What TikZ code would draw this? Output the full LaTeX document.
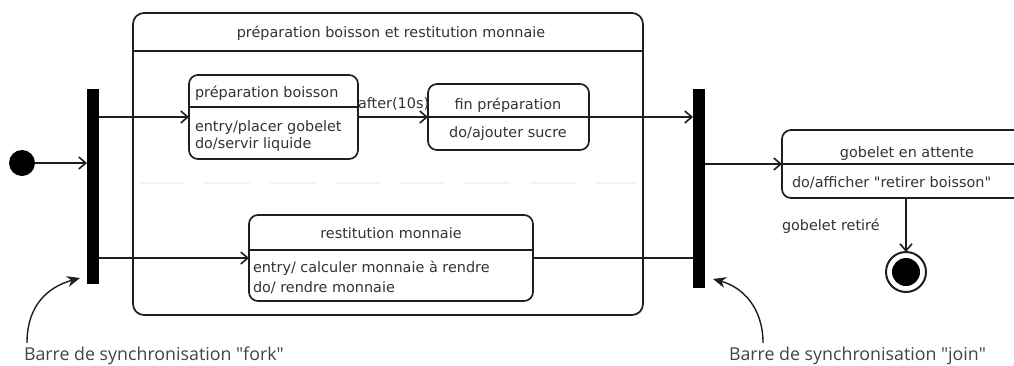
\documentclass[tikz,border=0pt]{standalone}
\usepackage{fontspec}
\newfontfamily\dv{DejaVu Sans}
\newfontfamily\osans{Open Sans}
\usetikzlibrary{arrows.meta}
\definecolor{ink}{HTML}{1E1E1E}
\definecolor{txtc}{HTML}{333333}
\definecolor{annc}{HTML}{444444}
\tikzset{
  box/.style={draw=ink, line width=1.7pt, rounded corners=9pt, inner sep=0pt, outer sep=0pt, fill=white},
  divl/.style={draw=ink, line width=1.7pt},
  bar/.style={fill=black, draw=none, inner sep=0pt, outer sep=0pt, minimum width=12pt},
  txt/.style={inner sep=0pt, outer sep=0pt, text=txtc, font=\dv\fontsize{14.4}{17}\selectfont},
  ann/.style={inner sep=0pt, outer sep=0pt, text=annc, font=\osans\fontsize{17.8}{20}\selectfont},
  trans/.style={line width=1.6pt, draw=ink, -{Straight Barb[length=7pt,width=12pt]}},
  annarrow/.style={line width=1.4pt, draw=ink, -{Stealth[length=13pt,width=11pt]}},
}
\begin{document}
\begin{tikzpicture}[x=1pt,y=-1pt]
\useasboundingbox (0,0) rectangle (1014,365);
\clip (0,0) rectangle (1014,365);
\fill[white] (0,0) rectangle (1014,365);

% composite state
\node[box, rounded corners=11pt, minimum width=510pt, minimum height=302pt] (comp) at (388,164) {};
\draw[divl] (133,51) -- (643,51);
\node[txt, anchor=base] (compT) at (391,37) {préparation boisson et restitution monnaie};
\draw[black!5, line width=2pt, dash pattern=on 45pt off 20pt] (140,183) -- (636,183);

% bars
\node[bar, minimum height=195pt] (fork) at (93,186.5) {};
\node[bar, minimum height=199pt] (join) at (699,188) {};

% initial
\node[circle, fill=black, minimum size=26pt, inner sep=0pt, outer sep=0pt] (init) at (22,163) {};

% préparation boisson
\node[box, minimum width=169pt, minimum height=84pt] (prep) at (273.5,117) {};
\draw[divl] (189,107) -- (358,107);
\node[txt, anchor=base west] (prepT) at (195,97) {préparation boisson};
\node[txt, anchor=base west] (prepA) at (195,131) {entry/placer gobelet};
\node[txt, anchor=base west] (prepB) at (195,148) {do/servir liquide};

% fin préparation
\node[box, minimum width=161pt, minimum height=66pt] (fin) at (508.5,117) {};
\node[txt, anchor=base] (finT) at (508,109) {fin préparation};
\node[txt, anchor=base] (finA) at (508,137) {do/ajouter sucre};

% restitution monnaie
\node[box, minimum width=284pt, minimum height=86pt] (rest) at (391,258) {};
\draw[divl] (249,250) -- (533,250);
\node[txt, anchor=base] (restT) at (391,238) {restitution monnaie};
\node[txt, anchor=base west] (restA) at (253,272) {entry/ calculer monnaie à rendre};
\node[txt, anchor=base west] (restB) at (253,292) {do/ rendre monnaie};

% gobelet en attente
\node[box, minimum width=250pt, minimum height=68pt] (gob) at (907,164) {};
\node[txt, anchor=base] (gobT) at (907,157) {gobelet en attente};
\node[txt, anchor=base west] (gobA) at (792,187) {do/afficher "retirer boisson"};
\node[txt, anchor=base west] (gobR) at (782,230) {gobelet retiré};

% final
\node[circle, draw=ink, line width=2pt, fill=white, minimum size=40pt, inner sep=0pt, outer sep=0pt] (final) at (906,272) {};
\node[circle, fill=black, minimum size=28pt, inner sep=0pt] (finalIn) at (final.center) {};

% transitions
\draw[trans] (init.east) -- (init -| fork.west);
\draw[trans] (fork.east |- prep.west) -- (prep.west);
\draw[trans] (prep.east) -- (fin.west);
\node[txt, anchor=base west] (afterL) at (358,108) {after(10s)};
\draw[divl] (fin.west) -- (fin.east);
\draw[trans] (fin.east) -- (fin.east -| join.west);
\draw[trans] (fork.east |- rest.west) -- (rest.west);
\draw[line width=1.6pt, draw=ink] (rest.east) -- (rest.east -| join.west);
\draw[trans] (join.east |- gob.west) -- (gob.west);
\draw[divl] (gob.west) -- (1020,164);
\draw[trans] (gob.south -| final) -- (final.north);

% annotations
\node[ann, anchor=base west] (forkL) at (24,360) {Barre de synchronisation "fork"};
\node[ann, anchor=base west] (joinL) at (729,360) {Barre de synchronisation "join"};
\coordinate (forkS) at (27,343);
\coordinate (forkE) at (80,278);
\coordinate (joinS) at (763,343);
\coordinate (joinE) at (713,279);
\draw[annarrow] (forkS) .. controls (27,305) and (48,287) .. (forkE);
\draw[annarrow] (joinS) .. controls (763,307) and (742,287) .. (joinE);
\end{tikzpicture}
\end{document}
